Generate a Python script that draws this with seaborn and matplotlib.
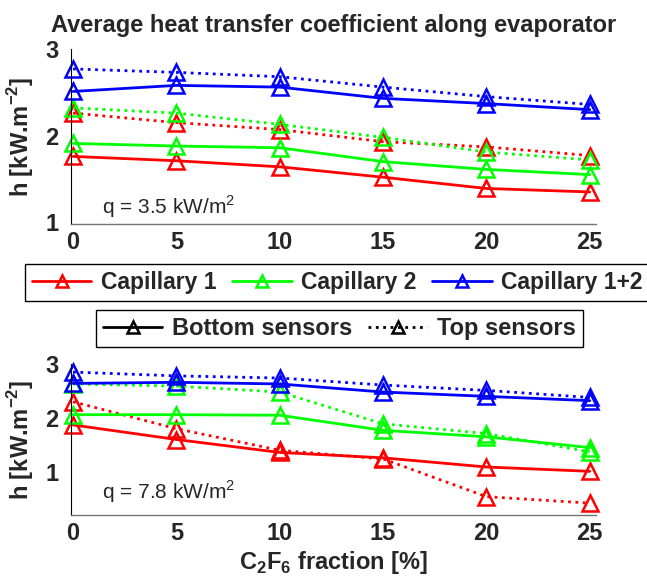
import matplotlib
matplotlib.use("Agg")
import matplotlib.pyplot as plt
from matplotlib.lines import Line2D
import seaborn as sns

# ---------------- data ----------------
fraction = [0, 5, 10, 15, 20, 25]

# q = 3.5 kW/m2
cap1_bottom_q35 = [1.76, 1.71, 1.64, 1.52, 1.39, 1.35]
cap1_top_q35 = [2.26, 2.15, 2.07, 1.93, 1.87, 1.77]
cap2_bottom_q35 = [1.91, 1.88, 1.86, 1.70, 1.61, 1.55]
cap2_top_q35 = [2.32, 2.26, 2.13, 1.98, 1.81, 1.72]
cap12_bottom_q35 = [2.51, 2.58, 2.56, 2.43, 2.37, 2.30]
cap12_top_q35 = [2.77, 2.73, 2.68, 2.56, 2.45, 2.36]

# q = 7.8 kW/m2
cap1_bottom_q78 = [1.87, 1.60, 1.36, 1.26, 1.09, 1.01]
cap1_top_q78 = [2.30, 1.80, 1.40, 1.24, 0.54, 0.42]
cap2_bottom_q78 = [2.06, 2.06, 2.05, 1.77, 1.65, 1.45]
cap2_top_q78 = [2.63, 2.59, 2.48, 1.89, 1.71, 1.37]
cap12_bottom_q78 = [2.64, 2.66, 2.63, 2.48, 2.40, 2.32]
cap12_top_q78 = [2.85, 2.78, 2.74, 2.61, 2.51, 2.38]

capillaries = ["Capillary 1", "Capillary 2", "Capillary 1+2"]
sensors = ["Bottom sensors", "Top sensors"]
xticks = [0, 5, 10, 15, 20, 25]
yticks = [1, 2, 3]

colors = {"Capillary 1": "#ff0000", "Capillary 2": "#00ff00", "Capillary 1+2": "#0000ff"}
styles = {"Bottom sensors": "-", "Top sensors": ":"}

panels = [
    {
        "q": "q = 3.5 kW/m$^2$",
        "series": {
            ("Capillary 1", "Bottom sensors"): cap1_bottom_q35,
            ("Capillary 1", "Top sensors"): cap1_top_q35,
            ("Capillary 2", "Bottom sensors"): cap2_bottom_q35,
            ("Capillary 2", "Top sensors"): cap2_top_q35,
            ("Capillary 1+2", "Bottom sensors"): cap12_bottom_q35,
            ("Capillary 1+2", "Top sensors"): cap12_top_q35,
        },
    },
    {
        "q": "q = 7.8 kW/m$^2$",
        "series": {
            ("Capillary 1", "Bottom sensors"): cap1_bottom_q78,
            ("Capillary 1", "Top sensors"): cap1_top_q78,
            ("Capillary 2", "Bottom sensors"): cap2_bottom_q78,
            ("Capillary 2", "Top sensors"): cap2_top_q78,
            ("Capillary 1+2", "Bottom sensors"): cap12_bottom_q78,
            ("Capillary 1+2", "Top sensors"): cap12_top_q78,
        },
    },
]

# ---------------- style ----------------
sns.set_style("white")
plt.rcParams["font.family"] = ["Liberation Sans", "DejaVu Sans"]
plt.rcParams["mathtext.fontset"] = "custom"
plt.rcParams["mathtext.rm"] = "Liberation Sans"
plt.rcParams["mathtext.bf"] = "Liberation Sans:bold"

FS = 17
W, H = 647, 577
fig = plt.figure(figsize=(W / 100, H / 100), dpi=100)

def fx(px):
    return px / W

def fy(py):
    return 1 - py / H

ax_top = fig.add_axes([fx(71), fy(224), fx(596) - fx(71), fy(49) - fy(224)])
ax_bot = fig.add_axes([fx(71), fy(515), fx(596) - fx(71), fy(364) - fy(515)])

ylims = [(0.98, 3.0), (0.2, 3.0)]
ann_y = [207, 492]
ann_x = 102

for ax, panel, ylim, ay in zip([ax_top, ax_bot], panels, ylims, ann_y):
    for (cap, sen), vals in panel["series"].items():
        c = colors[cap]
        sns.lineplot(x=fraction, y=vals, ax=ax, color=c, linestyle=styles[sen],
                     linewidth=2.0, marker="^", markersize=11,
                     markerfacecolor="none", markeredgecolor=c,
                     markeredgewidth=1.8, legend=False, clip_on=False)
    ax.set_xlim(-0.1, 25.3)
    ax.set_ylim(*ylim)
    ax.set_xticks(xticks)
    ax.set_yticks(yticks)
    ax.set_xticklabels([str(t) for t in xticks], fontsize=FS, fontweight="bold")
    ax.set_yticklabels([str(t) for t in yticks], fontsize=FS, fontweight="bold")
    ax.tick_params(direction="in", length=3, width=0.6, color="black")
    ax.tick_params(axis="x", pad=5)
    ax.tick_params(axis="y", pad=9)
    for s in ["top", "right"]:
        ax.spines[s].set_visible(False)
    ax.spines["left"].set_color("black")
    ax.spines["left"].set_linewidth(0.8)
    ax.spines["bottom"].set_color("0.45")
    ax.spines["bottom"].set_linewidth(1.0)
    ax.set_ylabel(r"h [kW.m$^{\mathbf{-2}}$]", fontsize=FS, fontweight="bold")
    ax.yaxis.set_label_coords(-0.066, 0.5)
    ax.set_xlabel("")
    fig.text(fx(ann_x), fy(ay), panel["q"], fontsize=15, ha="left", va="center")

ax_top.set_title("Average heat transfer coefficient along evaporator",
                 fontsize=17, fontweight="bold", pad=12)
ax_bot.set_xlabel(r"C$_{\mathbf{2}}$F$_{\mathbf{6}}$ fraction [%]", fontsize=FS,
                  fontweight="bold", labelpad=3)

# ---------------- legends ----------------
cap_handles = [Line2D([0], [0], color=colors[c], linestyle="-", linewidth=2,
                      marker="^", markersize=9, markerfacecolor="none",
                      markeredgecolor=colors[c], markeredgewidth=1.8)
               for c in capillaries]
sen_handles = [Line2D([0], [0], color="black", linestyle=styles[s], linewidth=2,
                      marker="^", markersize=9, markerfacecolor="none",
                      markeredgecolor="black", markeredgewidth=1.8)
               for s in sensors]

leg_kw = dict(frameon=True, fancybox=False, framealpha=1,
              edgecolor="black", borderpad=0.3, handletextpad=0.4,
              columnspacing=0.7, borderaxespad=0)
leg1 = fig.legend(cap_handles, capillaries, ncol=3, loc="upper left",
                  bbox_to_anchor=(fx(25), fy(264)), handlelength=2.6,
                  prop={"weight": "bold", "size": 16.5}, **leg_kw)
leg2 = fig.legend(sen_handles, sensors, ncol=2, loc="upper left",
                  bbox_to_anchor=(fx(96), fy(310)), handlelength=2.5,
                  prop={"weight": "bold", "size": 17}, **leg_kw)
for leg in (leg1, leg2):
    leg.get_frame().set_linewidth(1.0)

fig.savefig("out.png", dpi=100)
